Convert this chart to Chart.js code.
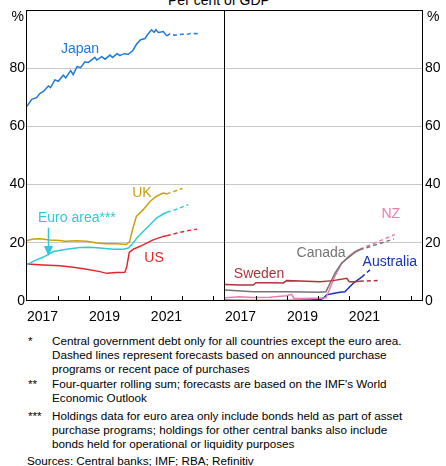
<!DOCTYPE html>
<html><head><meta charset="utf-8">
<script src="https://cdn.jsdelivr.net/npm/chart.js@4.4.0/dist/chart.umd.min.js"></script>
<style>
html,body{margin:0;padding:0;background:#fff;width:446px;height:466px;overflow:hidden;font-family:"Liberation Sans",Arial,sans-serif;color:#000}
#title{position:absolute;left:119px;width:200px;top:-8px;text-align:center;font-size:14px;line-height:16px;white-space:nowrap}
canvas{position:absolute;top:0}
#cl{left:0}
#cr{left:220px}
.note{position:absolute;left:0;width:446px;font-size:11.7px;line-height:14px}
.note .m{position:absolute;left:28px;top:0}
.note .t{position:absolute;left:52px;width:365px}
#src{position:absolute;left:27px;font-size:11.7px;line-height:14px;white-space:nowrap}
</style></head>
<body>
<div id="title">Per cent of GDP</div>
<canvas id="cl" width="230" height="325"></canvas>
<canvas id="cr" width="226" height="325"></canvas>
<div class="note" style="top:334px"><span class="m">*</span><div class="t">Central government debt only for all countries except the euro area. Dashed lines represent forecasts based on announced purchase programs or recent pace of purchases</div></div>
<div class="note" style="top:377px"><span class="m">**</span><div class="t">Four-quarter rolling sum; forecasts are based on the IMF's World Economic Outlook</div></div>
<div class="note" style="top:409px"><span class="m">***</span><div class="t">Holdings data for euro area only include bonds held as part of asset purchase programs; holdings for other central banks also include bonds held for operational or liquidity purposes</div></div>
<div id="src" style="top:454px">Sources: Central banks; IMF; RBA; Refinitiv</div>
<script>
const FONT = '"Liberation Sans", Arial, sans-serif';
const X_MIN = 2017, X_MAX = 2023.39;
const YEAR_TICKS = [2018, 2019, 2020, 2021, 2022, 2023];
const LABEL_TICKS = [2017.5, 2019.5, 2021.5];
const Y_TICKS = [0, 20, 40, 60, 80, 100];

// Left panel series: [year, per cent of GDP]
const japan = [[2017.00,66.9],[2017.15,69.3],[2017.31,69.9],[2017.42,71.4],[2017.53,72.0],[2017.69,73.9],[2017.76,73.3],[2017.90,76.0],[2018.01,75.5],[2018.17,77.6],[2018.25,76.7],[2018.41,79.2],[2018.49,77.8],[2018.62,80.6],[2018.73,80.2],[2018.87,82.2],[2018.98,82.0],[2019.19,83.7],[2019.25,82.8],[2019.41,84.0],[2019.52,83.1],[2019.68,84.5],[2019.76,83.7],[2019.91,85.0],[2020.00,84.3],[2020.13,85.0],[2020.27,84.8],[2020.41,86.0],[2020.54,88.3],[2020.67,89.8],[2020.81,90.2],[2020.90,91.7],[2021.02,93.2],[2021.10,92.3],[2021.16,93.2],[2021.24,92.3],[2021.40,92.6],[2021.51,91.1]];
const japanForecast = [[2021.51,91.1],[2021.61,91.8],[2021.77,91.3],[2021.99,91.7],[2022.15,91.6],[2022.31,92.0],[2022.53,91.8]];
const uk = [[2017.00,20.8],[2017.20,21.3],[2017.42,21.4],[2017.74,21.0],[2018.06,20.8],[2018.23,20.5],[2018.60,20.7],[2018.93,20.5],[2019.25,19.9],[2019.57,19.7],[2019.89,19.7],[2020.20,19.4],[2020.31,20.4],[2020.42,25.1],[2020.53,29.1],[2020.75,31.4],[2020.97,34.2],[2021.18,36.0],[2021.40,37.1],[2021.51,36.8]];
const ukForecast = [[2021.51,36.8],[2021.67,37.4],[2021.83,38.0],[2022.02,38.7]];
const euroArea = [[2017.00,12.4],[2017.20,13.6],[2017.53,15.1],[2017.85,17.0],[2018.28,17.8],[2018.71,18.4],[2019.03,18.5],[2019.35,18.2],[2019.78,17.8],[2020.11,17.8],[2020.27,18.2],[2020.38,19.3],[2020.54,21.6],[2020.75,23.9],[2020.97,26.2],[2021.18,28.5],[2021.40,29.9],[2021.51,30.5]];
const euroAreaForecast = [[2021.51,30.5],[2021.72,31.1],[2021.94,32.0],[2022.20,33.1]];
const us = [[2017.00,12.7],[2017.53,12.4],[2018.06,12.1],[2018.49,11.6],[2018.93,10.9],[2019.35,10.1],[2019.57,9.5],[2019.89,9.8],[2020.16,9.9],[2020.22,11.8],[2020.30,16.7],[2020.43,17.8],[2020.75,19.3],[2021.07,21.0],[2021.40,22.2],[2021.51,22.4]];
const usForecast = [[2021.51,22.4],[2021.83,23.3],[2022.15,24.1],[2022.49,24.7]];

// Right panel series
const sweden = [[2017.00,5.7],[2017.48,5.5],[2017.91,5.5],[2018.00,6.3],[2018.45,6.3],[2018.88,6.2],[2018.99,7.0],[2019.42,6.9],[2019.85,6.7],[2020.06,6.6],[2020.49,7.0],[2020.93,7.8],[2021.01,6.6],[2021.14,6.6],[2021.35,6.8]];
const swedenForecast = [[2021.35,6.8],[2022.03,7.1]];
const canada = [[2017.00,3.8],[2017.91,3.2],[2018.99,3.2],[2020.06,3.0],[2020.26,3.2],[2020.39,6.1],[2020.55,9.6],[2020.76,13.0],[2020.98,14.9],[2021.19,16.7],[2021.35,17.6]];
const canadaForecast = [[2021.35,17.6],[2022.45,21.3]];
const nz = [[2017.00,1.1],[2017.48,1.5],[2017.91,1.2],[2018.45,1.3],[2018.99,1.8],[2019.15,2.3],[2019.23,0.9],[2019.64,0.9],[2020.06,1.0],[2020.26,1.1],[2020.39,4.4],[2020.55,8.6],[2020.76,12.8],[2020.98,15.3],[2021.19,17.0],[2021.35,17.8]];
const nzForecast = [[2021.35,17.8],[2022.48,22.8]];
const australia = [[2017.00,0.3],[2017.91,0.2],[2018.99,0.2],[2020.06,0.4],[2020.17,0.9],[2020.28,2.1],[2020.49,2.6],[2020.71,3.0],[2020.87,3.2],[2020.98,4.4],[2021.14,6.1],[2021.41,8.2]];
const australiaForecast = [[2021.41,8.2],[2021.68,10.7]];

const COLORS = {japan:'#1f7ad6', uk:'#c9a00c', euro:'#2ec8dc', us:'#e3262d', sweden:'#b2323c', canada:'#747474', nz:'#f27aae', australia:'#1530c0'};

// Labels anchored in data coordinates: [text, year, value, colour]
const leftLabels = [['Japan',2018.71,86.6,COLORS.japan],['UK',2020.71,37.2,COLORS.uk],['Euro area***',2018.61,28.6,COLORS.euro],['US',2021.10,14.8,COLORS.us]];
const rightLabels = [['NZ',2022.35,30.0,COLORS.nz],['Canada',2020.10,16.6,COLORS.canada],['Australia',2022.32,13.4,COLORS.australia],['Sweden',2018.10,9.3,COLORS.sweden]];
const euroArrow = [2017.68, 25.2, 15.5];

function toXY(a){ return a.map(p => ({x:p[0], y:p[1]})); }
function ds(data, color, dashed){
  return {data: toXY(data), borderColor: color, borderWidth: 1.5, borderDash: dashed ? [4,3] : [], pointRadius: 0, tension: 0, fill: false};
}

const overlay = {
  id: 'overlay',
  afterDatasetsDraw(chart, args, opts){
    const ctx = chart.ctx, ca = chart.chartArea;
    const xs = chart.scales.x, ys = chart.scales.y;
    ctx.save();
    ctx.strokeStyle = '#000'; ctx.lineWidth = 1;
    ctx.beginPath();
    YEAR_TICKS.forEach(yr => {
      const px = Math.round(xs.getPixelForValue(yr)) + 0.5;
      ctx.moveTo(px, ca.bottom); ctx.lineTo(px, ca.bottom - 5);
    });
    ctx.stroke();
    const l = Math.round(ca.left) - 0.5, r = Math.round(ca.right) - 0.5, t = Math.round(ca.top) + 0.5, b = Math.round(ca.bottom) - 0.5;
    ctx.strokeRect(l, t, r - l, b - t);
    ctx.font = '14px ' + FONT; ctx.textAlign = 'center'; ctx.textBaseline = 'middle';
    opts.labels.forEach(L => { ctx.fillStyle = L[3]; ctx.fillText(L[0], xs.getPixelForValue(L[1]), ys.getPixelForValue(L[2])); });
    if (opts.arrow) {
      const ax = Math.round(xs.getPixelForValue(opts.arrow[0])) + 0.5;
      const y1 = ys.getPixelForValue(opts.arrow[1]), y2 = ys.getPixelForValue(opts.arrow[2]);
      ctx.strokeStyle = COLORS.euro; ctx.fillStyle = COLORS.euro; ctx.lineWidth = 1.5;
      ctx.beginPath(); ctx.moveTo(ax, y1); ctx.lineTo(ax, y2 - 8); ctx.stroke();
      ctx.beginPath(); ctx.moveTo(ax - 4.5, y2 - 10); ctx.lineTo(ax + 4.5, y2 - 10); ctx.lineTo(ax, y2); ctx.closePath(); ctx.fill();
    }
    ctx.fillStyle = '#000'; ctx.textBaseline = 'middle';
    if (opts.side === 'left') { ctx.textAlign = 'right'; ctx.fillText('%', ca.left - 3, ca.top + 7); }
    else { ctx.textAlign = 'left'; ctx.fillText('%', ca.right + 4, ca.top + 7); }
    ctx.restore();
  }
};

function makeChart(id, datasets, side, labels, arrow){
  const yw = side === 'left' ? 27 : 23;
  return new Chart(document.getElementById(id), {
    type: 'line',
    data: {datasets},
    plugins: [overlay],
    options: {
      responsive: false, animation: false, devicePixelRatio: 1,
      layout: {padding: {top: 10, bottom: 0, left: side === 'left' ? 0 : 5, right: side === 'left' ? 5 : 0}},
      plugins: {legend: {display: false}, tooltip: {enabled: false}, title: {display: false}, overlay: {labels, arrow, side}},
      scales: {
        x: {
          type: 'linear', min: X_MIN, max: X_MAX,
          grid: {display: false, drawTicks: false}, border: {display: false},
          afterBuildTicks: s => { s.ticks = LABEL_TICKS.map(v => ({value: v})); },
          ticks: {autoSkip: false, maxRotation: 0, padding: 8, color: '#000', font: {size: 14, family: FONT}, callback: v => String(Math.floor(v))},
          afterFit: s => { s.height = 24; s.paddingLeft = 0; s.paddingRight = 0; }
        },
        y: {
          position: side, min: 0, max: 100,
          afterBuildTicks: s => { s.ticks = Y_TICKS.map(v => ({value: v})); },
          grid: {drawTicks: false, lineWidth: 1, color: c => (c.tick && (c.tick.value === 0 || c.tick.value === 100)) ? 'rgba(0,0,0,0)' : '#c8c8c8'},
          border: {display: false},
          ticks: {padding: 2, color: '#000', font: {size: 14, family: FONT}, callback: v => v === 100 ? '' : String(v)},
          afterFit: s => { s.width = yw; s.paddingTop = 0; s.paddingBottom = 0; }
        }
      }
    }
  });
}

makeChart('cl', [
  ds(japan, COLORS.japan), ds(japanForecast, COLORS.japan, true),
  ds(uk, COLORS.uk), ds(ukForecast, COLORS.uk, true),
  ds(euroArea, COLORS.euro), ds(euroAreaForecast, COLORS.euro, true),
  ds(us, COLORS.us), ds(usForecast, COLORS.us, true)
], 'left', leftLabels, euroArrow);

makeChart('cr', [
  ds(sweden, COLORS.sweden), ds(swedenForecast, COLORS.sweden, true),
  ds(canada, COLORS.canada), ds(canadaForecast, COLORS.canada, true),
  ds(nz, COLORS.nz), ds(nzForecast, COLORS.nz, true),
  ds(australia, COLORS.australia), ds(australiaForecast, COLORS.australia, true)
], 'right', rightLabels, null);
</script>
</body></html>
